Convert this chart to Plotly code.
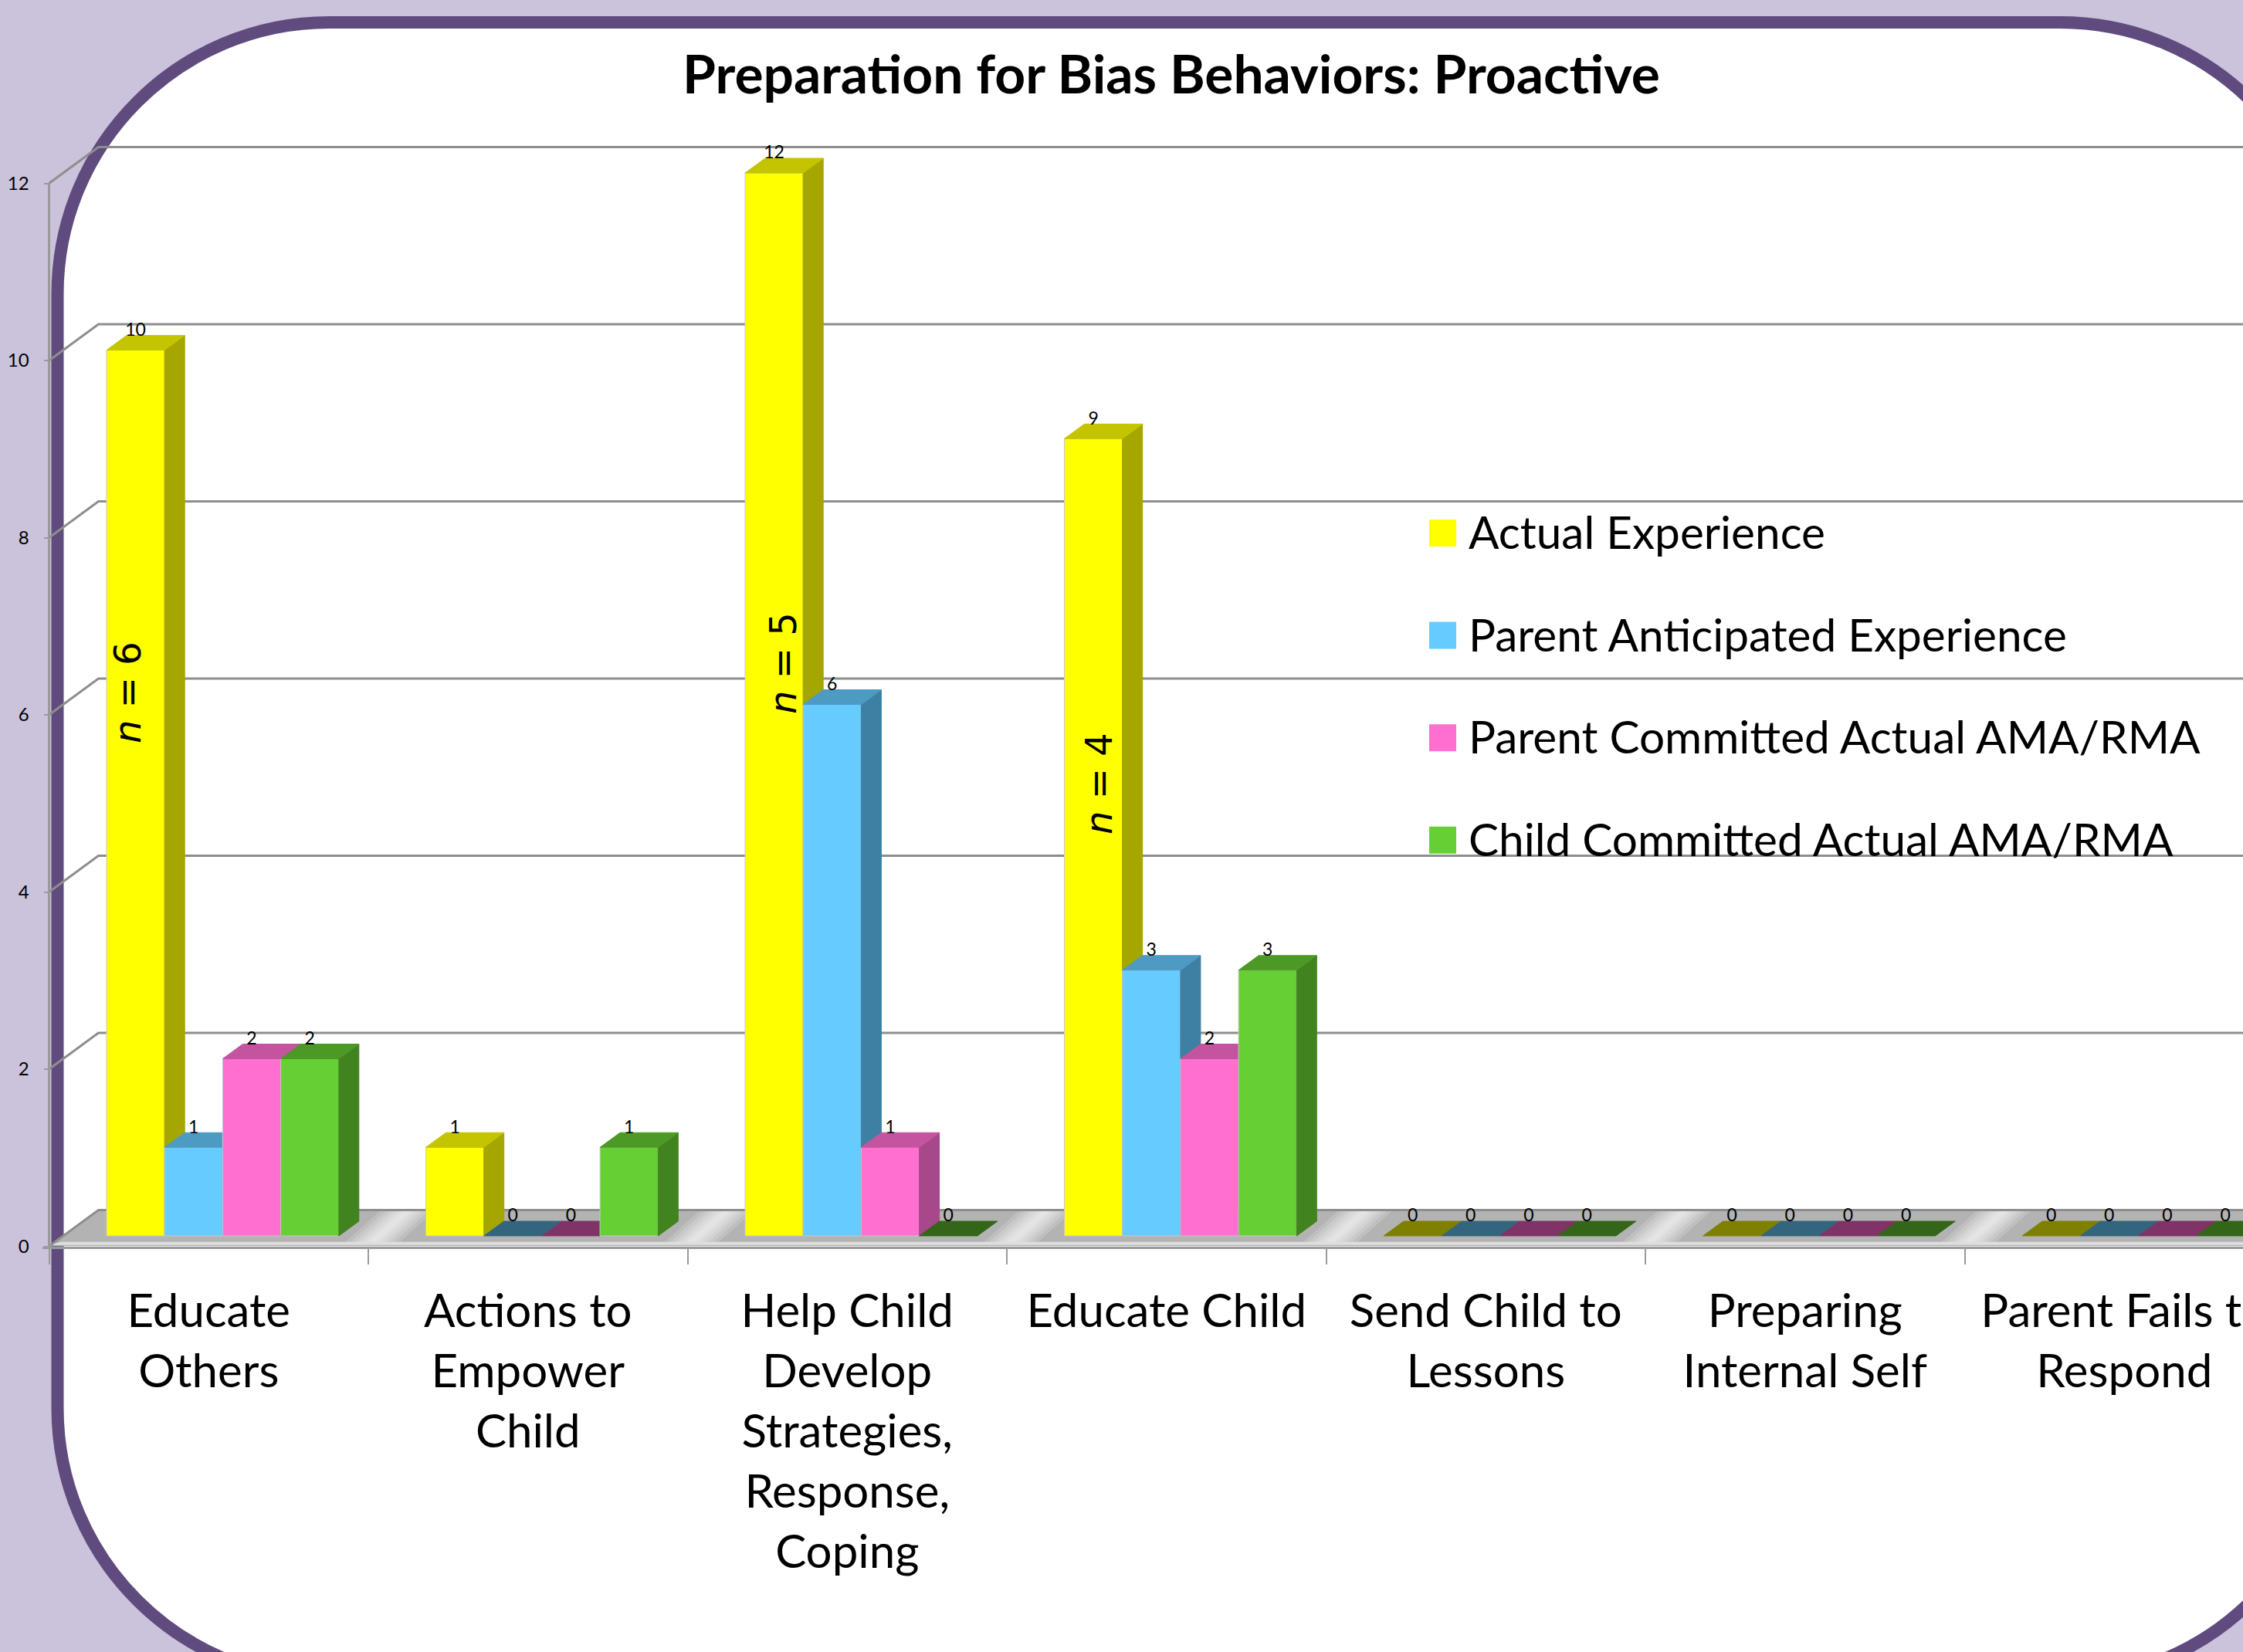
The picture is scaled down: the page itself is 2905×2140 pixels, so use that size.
import plotly.graph_objects as go

W, H = 2905, 2140

categories = [
    "Educate<br>Others",
    "Actions to<br>Empower<br>Child",
    "Help Child<br>Develop<br>Strategies,<br>Response,<br>Coping",
    "Educate Child",
    "Send Child to<br>Lessons",
    "Preparing<br>Internal Self",
    "Parent Fails to<br>Respond",
]
series_names = [
    "Actual Experience",
    "Parent Anticipated Experience",
    "Parent Committed Actual AMA/RMA",
    "Child Committed Actual AMA/RMA",
]
actual = [10, 1, 12, 9, 0, 0, 0]
anticipated = [1, 0, 6, 3, 0, 0, 0]
parent_committed = [2, 0, 1, 2, 0, 0, 0]
child_committed = [2, 1, 0, 3, 0, 0, 0]
y_ticks = [0, 2, 4, 6, 8, 10, 12]
n_labels = ["n = 6", "n = 5", "n = 4"]

front_colors = ["#FFFF00", "#66CCFF", "#FF6FCF", "#66CF33"]
side_colors = ["#A6A600", "#3E7FA4", "#A6488A", "#41831F"]
top_colors = ["#C4C400", "#4D9BC2", "#C4549F", "#4C9A25"]
zero_colors = ["#808000", "#33657F", "#803366", "#336619"]

# echelle : 413.5 px par categorie, 114.75 px par unite
X_LEFT, Y_ZERO = 63.5, 1614.5
UNIT_X, UNIT_Y = 413.5, 114.75
X_MIN = -0.02
X_MAX = (W - X_LEFT) / UNIT_X
Y_MAX = 14
WALL_DX, WALL_DY = 64 / UNIT_X, 47 / UNIT_Y
BAR_W = 75.2 / UNIT_X
BAR_DX, BAR_DY = 26 / UNIT_X, 19 / UNIT_Y
BAR_X0 = (138 - X_LEFT) / UNIT_X
FLOOR_Y = 13.5 / UNIT_Y
LABEL_DROP = 6 / UNIT_Y

fig = go.Figure()


def px(x):
    return x / W


def py(y):
    return 1 - y / H


def polygons(shapes):
    xs, ys = [], []
    for shape in shapes:
        for x, y in shape + shape[:1]:
            xs.append(x)
            ys.append(y)
        xs.append(None)
        ys.append(None)
    return xs, ys


def add_faces(shapes, color, yaxis="y", edge=None):
    if not shapes:
        return
    xs, ys = polygons(shapes)
    fig.add_scatter(
        x=xs, y=ys, yaxis=yaxis, mode="lines", fill="toself", fillcolor=color,
        line=dict(color=edge or color, width=1 if edge != "rgba(0,0,0,0)" else 0),
        hoverinfo="skip", showlegend=False,
    )


# sol en perspective, avec reflets clairs en diagonale a chaque graduation
add_faces([[(0, 0), (WALL_DX, WALL_DY), (X_MAX, WALL_DY), (X_MAX, 0)]], "#B3B3B3", edge="rgba(0,0,0,0)")
for half in [0.085, 0.068, 0.052, 0.038, 0.024, 0.012]:
    bands = []
    for i in range(1, 7):
        bands.append([(i - half + 0.01, 0.04), (i - half + 0.125, WALL_DY),
                      (i + half + 0.125, WALL_DY), (i + half + 0.01, 0.04)])
    add_faces(bands, "rgba(255,255,255,0.17)", edge="rgba(0,0,0,0)")
add_faces([[(0, 0.015), (0.04, 0.05), (X_MAX, 0.05), (X_MAX, 0.015)]], "#DEDEDE", edge="rgba(0,0,0,0)")

# quadrillage du fond et mur de gauche
grid_x, grid_y = [], []
for t in y_ticks:
    grid_x += [0, WALL_DX, X_MAX, None]
    grid_y += [t, t + WALL_DY, t + WALL_DY, None]
fig.add_scatter(
    x=grid_x, y=grid_y, mode="lines", line=dict(color="#8E8E8E", width=3),
    hoverinfo="skip", showlegend=False,
)
fig.add_scatter(
    x=[0, 0], y=[y_ticks[0], y_ticks[-1]], mode="lines", line=dict(color="#9A9A9A", width=3),
    hoverinfo="skip", showlegend=False,
)

# barres : une couche par serie, pour que chaque barre recouvre le flanc de la precedente
all_series = [actual, anticipated, parent_committed, child_committed]
for s, values in enumerate(all_series):
    yaxis = f"y{s + 2}"
    lefts = [i + BAR_X0 + s * BAR_W for i in range(len(values))]
    sides, tops, zeros = [], [], []
    for left, v in zip(lefts, values):
        right = left + BAR_W
        low, high = FLOOR_Y, FLOOR_Y + v
        top = [(left, high), (left + BAR_DX, high + BAR_DY), (right + BAR_DX, high + BAR_DY), (right, high)]
        if v == 0:
            zeros.append(top)
            continue
        tops.append(top)
        sides.append([(right, low), (right + BAR_DX, low + BAR_DY), (right + BAR_DX, high + BAR_DY), (right, high)])
    add_faces(sides, side_colors[s], yaxis)
    add_faces(tops, top_colors[s], yaxis)
    add_faces(zeros, zero_colors[s], yaxis)
    fig.add_bar(
        x=[left + BAR_W / 2 for left in lefts], y=values, base=FLOOR_Y, width=BAR_W,
        yaxis=yaxis, name=series_names[s], showlegend=False, hoverinfo="skip",
        marker=dict(color=front_colors[s], line=dict(color="#C8C8C8", width=1)),
    )

# etiquettes de valeur
label_x, label_y, label_text = [], [], []
for s, values in enumerate(all_series):
    for i, v in enumerate(values):
        label_x.append(i + BAR_X0 + (s + 0.5) * BAR_W)
        label_y.append(FLOOR_Y + v + BAR_DY - LABEL_DROP)
        label_text.append(str(v))
fig.add_scatter(
    x=label_x, y=label_y, text=label_text, yaxis="y6", mode="text", textposition="top center",
    textfont=dict(family="Lato", size=23, color="black"),
    hoverinfo="skip", showlegend=False,
)

# cadre arrondi qui deborde de l'image
L, T, R, B, RAD = 74.5, 29, 3020, 2176, 352
K = RAD * 0.448
frame = (
    f"M{px(L)},{py(T + RAD)} C{px(L)},{py(T + K)} {px(L + K)},{py(T)} {px(L + RAD)},{py(T)} "
    f"L{px(R - RAD)},{py(T)} C{px(R - K)},{py(T)} {px(R)},{py(T + K)} {px(R)},{py(T + RAD)} "
    f"L{px(R)},{py(B - RAD)} C{px(R)},{py(B - K)} {px(R - K)},{py(B)} {px(R - RAD)},{py(B)} "
    f"L{px(L + RAD)},{py(B)} C{px(L + K)},{py(B)} {px(L)},{py(B - K)} {px(L)},{py(B - RAD)} Z"
)
shapes = [dict(type="path", xref="paper", yref="paper", path=frame, fillcolor="white",
               line=dict(color="#5F4B7D", width=16), layer="below")]

# legende placee a la main (carres de 35 px, 132 px entre les lignes)
annotations = []
for s, name in enumerate(series_names):
    yc = 690 + s * 132.6
    shapes.append(dict(type="rect", xref="paper", yref="paper", x0=px(1851), x1=px(1886),
                       y0=py(yc - 17), y1=py(yc + 18), fillcolor=front_colors[s],
                       line=dict(width=0), layer="above"))
    annotations.append(dict(xref="paper", yref="paper", x=px(1900), y=py(yc - 2), text=name,
                            showarrow=False, xanchor="left", yanchor="middle",
                            font=dict(family="Lato", size=58.5, color="black")))

for text, xc, yc in zip(n_labels, [165, 1014, 1423], [897, 859, 1015]):
    annotations.append(dict(xref="paper", yref="paper", x=px(xc), y=py(yc),
                            xanchor="center", yanchor="middle",
                            text=text.replace("n", "<i>n</i>"), showarrow=False, textangle=-90,
                            font=dict(family="DejaVu Sans", size=48, color="black")))

x_domain0 = X_LEFT + X_MIN * UNIT_X
fig.update_layout(
    width=W, height=H, autosize=False,
    margin=dict(l=0, r=0, t=0, b=0, autoexpand=False),
    paper_bgcolor="#CBC2DB", plot_bgcolor="rgba(0,0,0,0)",
    showlegend=False, shapes=shapes, annotations=annotations, hovermode=False,
    title=dict(
        text="<b>Preparation for Bias Behaviors: Proactive</b>", x=px(1517), y=py(97),
        xanchor="center", yanchor="middle", font=dict(family="Lato", size=69.5, color="black"),
    ),
    xaxis=dict(
        domain=[px(x_domain0), 1], range=[X_MIN, X_MAX],
        tickvals=[i + 0.5 for i in range(len(categories))], ticktext=categories,
        ticks="outside", ticklen=29, tickcolor="rgba(0,0,0,0)", ticklabeloverflow="allow",
        tickfont=dict(family="Lato", size=60, color="black"),
        showgrid=False, zeroline=False, showline=True, linecolor="#9A9A9A", linewidth=3,
        minor=dict(tickvals=list(range(len(categories) + 1)), ticks="outside", ticklen=20,
                   tickcolor="#9A9A9A", tickwidth=2, showgrid=False),
    ),
    yaxis=dict(
        domain=[py(Y_ZERO), py(Y_ZERO - Y_MAX * UNIT_Y)], range=[0, Y_MAX],
        anchor="free", position=px(X_LEFT),
        tickvals=y_ticks, ticks="outside", ticklen=7, tickcolor="#9A9A9A", tickwidth=2,
        ticklabelstandoff=14, tickfont=dict(family="Lato", size=24, color="black"),
        showgrid=False, zeroline=False, showline=False,
    ),
)
for n in range(2, 7):
    fig.update_layout({f"yaxis{n}": dict(overlaying="y", range=[0, Y_MAX], visible=False)})

fig.write_html(
    "out.html",
    config=dict(displayModeBar=False),
    post_script="document.body.style.margin='0';document.body.style.overflow='hidden';",
)
